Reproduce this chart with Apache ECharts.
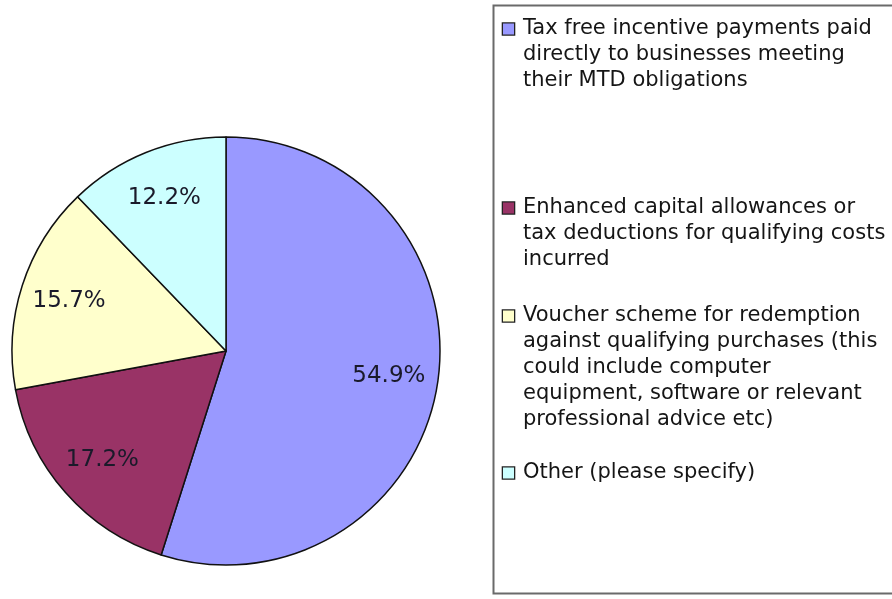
<!DOCTYPE html>
<html>
<head>
<meta charset="utf-8">
<script src="https://cdn.jsdelivr.net/npm/echarts@6/dist/echarts.min.js"></script>
<style>
  html, body { margin: 0; padding: 0; background: #ffffff; }
  #chart { width: 892px; height: 599px; }
</style>
</head>
<body>
<div id="chart"></div>
<script>
// Survey answers: share of respondents (%) per incentive option
const categories = [
  'Tax free incentive payments paid directly to businesses meeting their MTD obligations',
  'Enhanced capital allowances or tax deductions for qualifying costs incurred',
  'Voucher scheme for redemption against qualifying purchases (this could include computer equipment, software or relevant professional advice etc)',
  'Other (please specify)'
];
// Legend text, wrapped line by line
const legendLines = [
  ['Tax free incentive payments paid', 'directly to businesses meeting', 'their MTD obligations'],
  ['Enhanced capital allowances or', 'tax deductions for qualifying costs', 'incurred'],
  ['Voucher scheme for redemption', 'against qualifying purchases (this', 'could include computer', 'equipment, software or relevant', 'professional advice etc)'],
  ['Other (please specify)']
];
const shares = [54.9, 17.2, 15.7, 12.2];
const sliceColors = ['#9999FF', '#993366', '#FFFFCC', '#CCFFFF'];

const chart = echarts.init(document.getElementById('chart'), null, { renderer: 'canvas' });

const FONT = '"DejaVu Sans", "Liberation Sans", sans-serif';
const CX = 226, CY = 351, R = 214;
const LINE_H = 26;
// vertical centre of each legend entry's first line
const legendCentres = [29, 208, 316, 473];

const total = shares.reduce((a, b) => a + b, 0);
function midAngle(i) {
  let before = 0;
  for (let k = 0; k < i; k++) before += shares[k];
  return ((before + shares[i] / 2) / total) * Math.PI * 2;
}

// One legend block per answer; the colour key sits in front of the first line,
// the following lines are indented to line up with the text.
const legends = categories.map((name, i) => {
  const lines = legendLines[i];
  return {
    data: [name],
    orient: 'vertical',
    left: 498,
    top: legendCentres[i] - LINE_H / 2,
    padding: 0,
    icon: 'none',
    itemWidth: 0,
    itemHeight: 0,
    selectedMode: false,
    formatter: () => lines.map((s, k) =>
      (k === 0 ? '{box|}{gap|}' : '{ind|}') + '{t|' + s + '}').join('\n'),
    textStyle: {
      fontFamily: FONT,
      fontSize: 21,
      color: '#151515',
      lineHeight: LINE_H,
      rich: {
        box: {
          width: 11, height: 11,
          backgroundColor: sliceColors[i],
          borderColor: '#222222', borderWidth: 1.3,
          lineHeight: LINE_H
        },
        gap: { width: 9, lineHeight: LINE_H },
        ind: { width: 20, lineHeight: LINE_H },
        t: { fontFamily: FONT, fontSize: 21, color: '#151515', lineHeight: LINE_H }
      }
    }
  };
});

chart.setOption({
  backgroundColor: '#ffffff',
  animation: false,
  color: sliceColors,
  legend: legends,
  graphic: [{
    type: 'rect',
    silent: true,
    shape: { x: 493.5, y: 5.5, width: 420, height: 588 },
    style: { fill: 'none', stroke: '#6a6a6a', lineWidth: 2 }
  }],
  series: [{
    type: 'pie',
    center: [CX, CY],
    radius: R,
    startAngle: 90,
    clockwise: true,
    avoidLabelOverlap: false,
    data: categories.map((name, i) => ({ name, value: shares[i] })),
    itemStyle: { borderColor: '#111111', borderWidth: 1.5 },
    label: {
      show: true,
      position: 'inside',
      fontFamily: FONT,
      fontSize: 23,
      color: '#1a1a2a',
      formatter: (p) => p.value.toFixed(1) + '%'
    },
    labelLine: { show: false },
    labelLayout: (params) => {
      const a = midAngle(params.dataIndex);
      return {
        x: CX + 0.77 * R * Math.sin(a),
        y: CY - 0.77 * R * Math.cos(a),
        align: 'center',
        verticalAlign: 'middle'
      };
    },
    emphasis: { disabled: true }
  }]
});
</script>
</body>
</html>
